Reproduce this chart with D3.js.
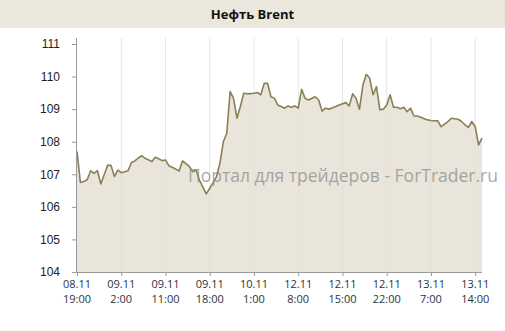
<!DOCTYPE html>
<html>
<head>
<meta charset="utf-8">
<script src="https://cdn.jsdelivr.net/npm/d3@7"></script>
<style>
  body { margin: 0; background: #fff; }
  svg { display: block; font-family: "Open Sans", "DejaVu Sans", sans-serif; }
</style>
</head>
<body>
<div id="chart"></div>
<script>
// Brent oil, hourly-ish samples (index along the trading axis)
const title = 'Нефть Brent';
const watermark = 'Портал для трейдеров - ForTrader.ru';

const sampleIdx = [0, 1, 2, 3, 4, 5, 6, 7, 9, 10, 11, 12, 13, 15, 16, 17, 18, 19, 20, 22,
    23, 24, 25, 26, 27, 29, 30, 31, 33, 34, 35, 36, 38, 39, 41, 42, 43, 44, 45, 46,
    47, 48, 49, 50, 52, 53, 54, 55, 56, 57, 58, 59, 60, 61, 62, 63, 64, 65, 66, 67,
    68, 70, 71, 72, 73, 74, 76, 77, 79, 80, 81, 82, 83, 84, 85, 86, 87, 88, 89, 90,
    91, 92, 93, 94, 95, 96, 97, 98, 99, 100, 101, 103, 104, 106, 107, 109, 110, 112, 113, 114,
    115, 116, 117, 118, 119];
const price = [107.70, 106.75, 106.78, 106.83, 107.11, 107.03, 107.11, 106.70, 107.28, 107.27,
    106.93, 107.13, 107.05, 107.11, 107.36, 107.41, 107.50, 107.57, 107.49, 107.39,
    107.52, 107.48, 107.42, 107.44, 107.26, 107.16, 107.10, 107.41, 107.24, 107.08,
    107.13, 106.81, 106.40, 106.57, 106.93, 107.34, 108.00, 108.26, 109.54, 109.33,
    108.72, 109.08, 109.49, 109.47, 109.49, 109.51, 109.44, 109.79, 109.79, 109.38,
    109.33, 109.13, 109.08, 109.03, 109.10, 109.06, 109.10, 109.03, 109.61, 109.33,
    109.28, 109.38, 109.28, 108.94, 109.03, 109.00, 109.08, 109.13, 109.20, 109.10,
    109.47, 109.33, 109.00, 109.74, 110.07, 109.95, 109.44, 109.69, 108.98, 109.00,
    109.13, 109.44, 109.06, 109.06, 109.01, 109.06, 108.92, 109.03, 108.79, 108.79,
    108.75, 108.67, 108.65, 108.64, 108.46, 108.62, 108.72, 108.69, 108.62, 108.52,
    108.44, 108.62, 108.46, 107.90, 108.11];

const tickIdx = [0, 13, 26, 39, 52, 65, 78, 91, 104, 117];
const tickDates = ['08.11', '09.11', '09.11', '09.11', '10.11', '12.11', '12.11', '12.11', '13.11', '13.11'];
const tickTimes = ['19:00', '2:00', '11:00', '18:00', '1:00', '8:00', '15:00', '22:00', '7:00', '14:00'];
const yTicks = [104, 105, 106, 107, 108, 109, 110, 111];

const width = 505, height = 331;
const margin = { top: 44, right: 23, bottom: 59, left: 77 };

const data = sampleIdx.map((d, i) => ({ i: d, v: price[i] }));

const svg = d3.select('#chart').append('svg')
    .attr('width', width)
    .attr('height', height);

// title bar
svg.append('rect')
    .attr('x', 0).attr('y', 0)
    .attr('width', width).attr('height', 28)
    .attr('fill', '#ebe7dc');
svg.append('text')
    .attr('x', width / 2).attr('y', 19)
    .attr('text-anchor', 'middle')
    .attr('font-size', 13)
    .attr('font-weight', 'bold')
    .attr('fill', '#111')
    .text(title);

const x = d3.scaleLinear()
    .domain([0, 119])
    .range([margin.left, width - margin.right]);
const y = d3.scaleLinear()
    .domain([104, 111])
    .range([height - margin.bottom, margin.top]);

// vertical grid
svg.append('g')
    .selectAll('line')
    .data(tickIdx.slice(1))
    .join('line')
    .attr('x1', d => x(d)).attr('x2', d => x(d))
    .attr('y1', y(111) - 6).attr('y2', y(104))
    .attr('stroke', '#e6e6e6');

const area = d3.area()
    .x(d => x(d.i))
    .y0(y(104))
    .y1(d => y(d.v));
const line = d3.line()
    .x(d => x(d.i))
    .y(d => y(d.v));

svg.append('path')
    .datum(data)
    .attr('d', area)
    .attr('fill', '#e4dfd1')
    .attr('fill-opacity', 0.8);

svg.append('path')
    .datum(data)
    .attr('d', line)
    .attr('fill', 'none')
    .attr('stroke', '#8a7f55')
    .attr('stroke-width', 1.6)
    .attr('stroke-linejoin', 'round');

// watermark
svg.append('text')
    .attr('x', 343).attr('y', 182)
    .attr('text-anchor', 'middle')
    .attr('font-size', 17.5)
    .attr('fill', '#8c8c8c')
    .attr('fill-opacity', 0.75)
    .text(watermark);

// y axis
const yAxis = svg.append('g')
    .attr('transform', `translate(${margin.left},0)`)
    .call(d3.axisLeft(y).tickValues(yTicks).tickSize(5).tickPadding(12).tickFormat(d3.format('d')));
yAxis.select('.domain').attr('stroke', '#999').attr('d', `M-0.5,${y(111) - 6}V${y(104)}`);
yAxis.selectAll('.tick line').attr('stroke', '#999');
yAxis.selectAll('.tick text')
    .attr('font-size', 12)
    .attr('fill', '#222');

// x axis
const xAxis = svg.append('g')
    .attr('transform', `translate(0,${y(104)})`)
    .call(d3.axisBottom(x).tickValues(tickIdx).tickSize(4).tickFormat(''));
xAxis.select('.domain').attr('stroke', '#999').attr('d', `M${margin.left},0.5H${width - margin.right}`);
xAxis.selectAll('.tick line').attr('stroke', '#999');

const labels = svg.append('g')
    .selectAll('text')
    .data(tickIdx)
    .join('text')
    .attr('text-anchor', 'middle')
    .attr('font-size', 11)
    .attr('fill', '#2a3440');
labels.append('tspan')
    .attr('x', d => x(d)).attr('y', 288)
    .text((d, i) => tickDates[i]);
labels.append('tspan')
    .attr('x', d => x(d)).attr('y', 303)
    .text((d, i) => tickTimes[i]);
</script>
</body>
</html>
